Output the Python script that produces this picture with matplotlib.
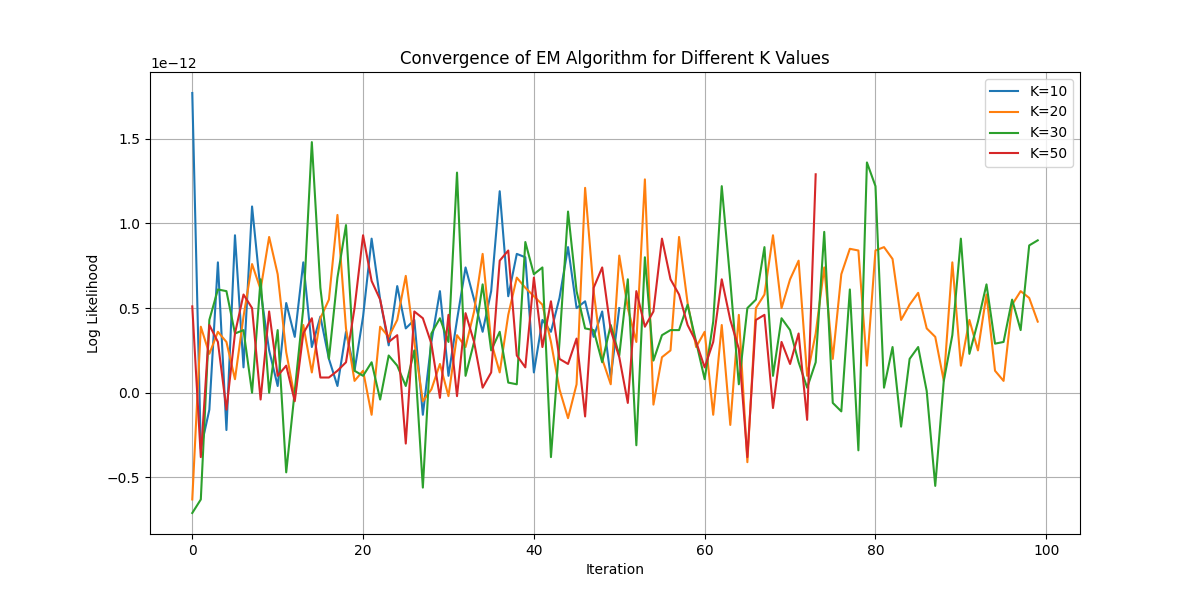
import matplotlib
matplotlib.use("Agg")
import matplotlib.pyplot as plt
import numpy as np

k10 = [1.77,-0.33,-0.1,0.77,-0.22,0.93,0.15,1.1,0.6,0.25,0.04,0.53,0.33,0.77,0.27,0.45,0.2,0.04,0.36,0.13,
       0.45,0.91,0.55,0.28,0.63,0.38,0.43,-0.13,0.3,0.6,0.1,0.43,0.74,0.55,0.36,0.6,1.19,0.57,0.82,0.8,
       0.12,0.43,0.36,0.56,0.86,0.5,0.54,0.33,0.48,0.09,0.5]
k20 = [-0.63,0.39,0.23,0.36,0.3,0.08,0.45,0.76,0.61,0.92,0.7,0.24,-0.03,0.4,0.12,0.44,0.55,1.05,0.38,0.07,
       0.13,-0.13,0.39,0.33,0.43,0.69,0.3,-0.05,0.02,0.17,-0.02,0.34,0.27,0.48,0.82,0.3,0.12,0.46,0.68,0.62,
       0.57,0.52,0.3,0.02,-0.15,0.05,1.21,0.6,0.2,0.05,0.81,0.5,0.3,1.26,-0.07,0.21,0.25,0.92,0.53,0.27,
       0.36,-0.13,0.4,-0.19,0.46,-0.41,0.5,0.58,0.93,0.5,0.67,0.78,0.1,0.35,0.74,0.2,0.7,0.85,0.84,0.16,
       0.84,0.86,0.79,0.43,0.52,0.59,0.38,0.33,0.07,0.77,0.16,0.43,0.25,0.58,0.13,0.07,0.52,0.6,0.56,0.42]
k30 = [-0.71,-0.63,0.43,0.61,0.6,0.35,0.37,0.0,0.67,0.0,0.37,-0.47,0.01,0.5,1.48,0.62,0.2,0.68,0.99,0.13,
       0.1,0.18,-0.04,0.22,0.16,0.04,0.25,-0.56,0.35,0.44,0.3,1.3,0.1,0.3,0.64,0.25,0.36,0.06,0.05,0.89,
       0.7,0.74,-0.38,0.3,1.07,0.6,0.38,0.37,0.18,0.4,0.22,0.67,-0.31,0.8,0.19,0.34,0.37,0.37,0.52,0.3,
       0.08,0.42,1.22,0.66,0.05,0.5,0.55,0.86,0.1,0.44,0.37,0.18,0.03,0.18,0.95,-0.06,-0.11,0.61,-0.34,1.36,
       1.22,0.03,0.27,-0.2,0.2,0.27,0.01,-0.55,0.07,0.34,0.91,0.23,0.42,0.64,0.29,0.3,0.55,0.37,0.87,0.9]
k50 = [0.51,-0.38,0.4,0.3,-0.1,0.35,0.58,0.5,-0.04,0.48,0.1,0.16,-0.05,0.35,0.44,0.09,0.09,0.13,0.18,0.5,
       0.93,0.66,0.55,0.3,0.34,-0.3,0.48,0.44,0.29,-0.03,0.46,-0.02,0.47,0.3,0.03,0.12,0.78,0.84,0.22,0.15,
       0.68,0.27,0.54,0.2,0.17,0.32,-0.14,0.62,0.74,0.37,0.21,-0.06,0.6,0.39,0.48,0.91,0.67,0.58,0.4,0.3,
       0.15,0.3,0.67,0.43,0.26,-0.38,0.43,0.46,-0.09,0.3,0.17,0.35,-0.16,1.29]
series = {"K=10": k10, "K=20": k20, "K=30": k30, "K=50": k50}

fig, ax = plt.subplots(figsize=(12, 6), dpi=100)
for name, vals in series.items():
    ax.plot(np.arange(len(vals)), np.array(vals) * 1e-12, label=name)
ax.set_title("Convergence of EM Algorithm for Different K Values")
ax.set_xlabel("Iteration")
ax.set_ylabel("Log Likelihood")
ax.legend(loc="upper right")
ax.grid(True)
fig.savefig("out.png")
